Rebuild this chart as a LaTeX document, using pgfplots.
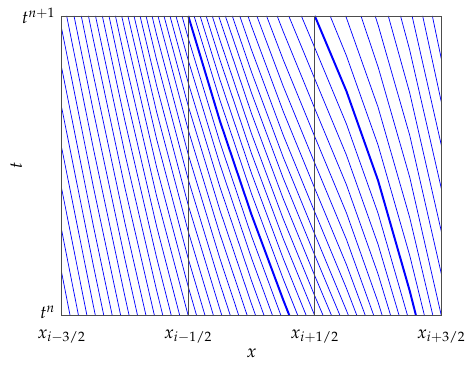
\documentclass[border=0pt]{standalone}
\usepackage{pgfplots}
\usepackage{mathpazo}
\pgfplotsset{compat=1.18}
\pgfplotsset{char/.style={blue, line width=0.4pt, mark=none},
             charthick/.style={blue, line width=1.1pt, mark=none}}
\begin{document}
\begin{tikzpicture}
\begin{axis}[
  scale only axis, width=211.7pt, height=167.2pt,
  xmin=0, xmax=3, ymin=0, ymax=1,
  xtick={0,1,2,3},
  xticklabels={$x_{i-3/2}$,$x_{i-1/2}$,$x_{i+1/2}$,$x_{i+3/2}$},
  xticklabel style={yshift=-4pt},
  ytick={0,1}, yticklabels={\raisebox{4pt}{$t^n$},$t^{n+1}$},
  major tick length=0pt,
  xmajorgrids, grid style={black!70, line width=0.4pt},
  axis line style={black!70, line width=0.4pt},
  axis on top,
  xlabel={$x$}, ylabel={$t$},
  xlabel style={at={(axis description cs:0.5,-0.125)},anchor=center},
  ylabel style={at={(axis description cs:-0.12,0.5)},anchor=center},
]
\addplot[char] coordinates {(0.0667,0) (0,0.1435)};
\addplot[char] coordinates {(0.1333,0) (0,0.2847)};
\addplot[char] coordinates {(0.2,0) (0,0.4236)};
\addplot[char] coordinates {(0.2667,0) (0.25,0.034) (0,0.560)};
\addplot[char] coordinates {(0.3333,0) (0.25,0.1683) (0,0.6943)};
\addplot[char] coordinates {(0.4,0) (0.25,0.3006) (0,0.8266)};
\addplot[char] coordinates {(0.4667,0) (0.25,0.4307) (0,0.9567)};
\addplot[char] coordinates {(0.5333,0) (0.5,0.0636) (0.25,0.5586) (0.0392,1)};
\addplot[char] coordinates {(0.6,0) (0.5,0.188) (0.25,0.683) (0.0974,1)};
\addplot[char] coordinates {(0.6667,0) (0.5,0.3089) (0.25,0.8039) (0.1548,1)};
\addplot[char] coordinates {(0.7333,0) (0.5,0.4262) (0.25,0.9212) (0.2113,1)};
\addplot[char] coordinates {(0.8,0) (0.75,0.0848) (0.5,0.5398) (0.2671,1)};
\addplot[char] coordinates {(0.8667,0) (0.75,0.1939) (0.5,0.6489) (0.3211,1)};
\addplot[char] coordinates {(0.9333,0) (0.75,0.2985) (0.5,0.7535) (0.3736,1)};
\addplot[char] coordinates {(1,0) (0.75,0.399) (0.5,0.854) (0.4246,1)};
\addplot[char] coordinates {(1.0667,0) (1,0.0966) (0.75,0.4956) (0.5,0.9506) (0.4742,1)};
\addplot[char] coordinates {(1.1333,0) (1,0.1903) (0.75,0.5893) (0.5232,1)};
\addplot[char] coordinates {(1.2,0) (1,0.2812) (0.75,0.6802) (0.5715,1)};
\addplot[char] coordinates {(1.2667,0) (1.25,0.0218) (1,0.3688) (0.75,0.7678) (0.619,1)};
\addplot[char] coordinates {(1.3333,0) (1.25,0.1075) (1,0.4545) (0.75,0.8535) (0.6664,1)};
\addplot[char] coordinates {(1.4,0) (1.25,0.1911) (1,0.5381) (0.75,0.9371) (0.7137,1)};
\addplot[char] coordinates {(1.4667,0) (1.25,0.2726) (1,0.6196) (0.7608,1)};
\addplot[char] coordinates {(1.5333,0) (1.5,0.0394) (1.25,0.3524) (1,0.6994) (0.8082,1)};
\addplot[char] coordinates {(1.6,0) (1.5,0.1168) (1.25,0.4298) (1,0.7768) (0.8554,1)};
\addplot[char] coordinates {(1.6667,0) (1.5,0.1922) (1.25,0.5052) (1,0.8522) (0.9028,1)};
\addplot[char] coordinates {(1.7333,0) (1.5,0.2657) (1.25,0.5787) (1,0.9257) (0.9504,1)};
\addplot[char] coordinates {(1.8667,0) (1.75,0.1233) (1.5,0.4068) (1.25,0.7198) (1.0459,1)};
\addplot[char] coordinates {(1.9333,0) (1.75,0.1913) (1.5,0.4748) (1.25,0.7878) (1.0936,1)};
\addplot[char] coordinates {(2,0) (1.75,0.2575) (1.5,0.541) (1.25,0.854) (1.1411,1)};
\addplot[char] coordinates {(2.0667,0) (2,0.066) (1.75,0.3235) (1.5,0.607) (1.25,0.92) (1.1894,1)};
\addplot[char] coordinates {(2.1333,0) (2,0.1333) (1.75,0.3908) (1.5,0.6743) (1.25,0.9873) (1.24,1)};
\addplot[char] coordinates {(2.2,0) (2,0.2018) (1.75,0.4593) (1.5,0.7428) (1.2929,1)};
\addplot[char] coordinates {(2.2667,0) (2.25,0.0177) (2,0.2717) (1.75,0.5292) (1.5,0.8127) (1.3477,1)};
\addplot[char] coordinates {(2.3333,0) (2.25,0.0916) (2,0.3456) (1.75,0.6031) (1.5,0.8866) (1.4069,1)};
\addplot[char] coordinates {(2.4,0) (2.25,0.1706) (2,0.4246) (1.75,0.6821) (1.5,0.9656) (1.4717,1)};
\addplot[char] coordinates {(2.4667,0) (2.25,0.2545) (2,0.5085) (1.75,0.766) (1.5419,1)};
\addplot[char] coordinates {(2.5333,0) (2.5,0.045) (2.25,0.343) (2,0.597) (1.75,0.8545) (1.6186,1)};
\addplot[char] coordinates {(2.6,0) (2.5,0.1389) (2.25,0.4369) (2,0.6909) (1.75,0.9484) (1.7024,1)};
\addplot[char] coordinates {(2.6667,0) (2.5,0.2378) (2.25,0.5358) (2,0.7898) (1.7942,1)};
\addplot[char] coordinates {(2.7333,0) (2.5,0.3415) (2.25,0.6395) (2,0.8935) (1.8936,1)};
\addplot[char] coordinates {(2.8667,0) (2.75,0.201) (2.5,0.569) (2.25,0.867) (2.1213,1)};
\addplot[char] coordinates {(2.9333,0) (2.75,0.3273) (2.5,0.6953) (2.25,0.9933) (2.2435,1)};
\addplot[char] coordinates {(3,0) (2.75,0.462) (2.5,0.83) (2.3646,1)};
\addplot[char] coordinates {(3,0.1397) (2.75,0.6017) (2.5,0.9697) (2.4768,1)};
\addplot[char] coordinates {(3,0.2809) (2.75,0.7429) (2.5805,1)};
\addplot[char] coordinates {(3,0.4239) (2.75,0.8859) (2.6773,1)};
\addplot[char] coordinates {(3,0.5683) (2.7686,1)};
\addplot[char] coordinates {(3,0.7125) (2.8521,1)};
\addplot[char] coordinates {(3,0.856) (2.9286,1)};
% characteristics arriving at the cell interfaces
\addplot[charthick] coordinates {(1.8,0) (1.75,0.0535) (1.5,0.337) (1.25,0.65) (1,1)};
\addplot[charthick] coordinates {(2.8,0) (2.75,0.083) (2.5,0.451) (2.25,0.749) (2,1)};
\end{axis}
\pgfresetboundingbox
\path[use as bounding box] ([xshift=-34.4pt,yshift=-27pt]current axis.south west) rectangle ([xshift=15.4pt,yshift=8.9pt]current axis.north east);
\end{tikzpicture}
\end{document}
